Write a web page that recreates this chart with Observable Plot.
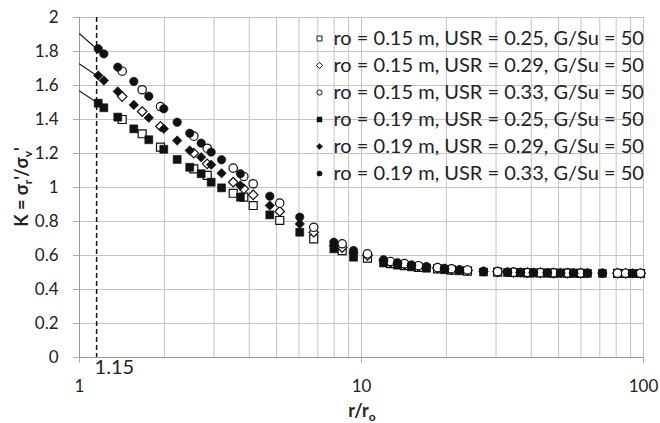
<!DOCTYPE html>
<html>
<head>
<meta charset="utf-8">
<script src="https://cdn.jsdelivr.net/npm/d3@7"></script>
<script src="https://cdn.jsdelivr.net/npm/@observablehq/plot@0.6"></script>
<style>
  html, body { margin: 0; padding: 0; background: #fff; }
  #chart { width: 660px; height: 423px; }
</style>
</head>
<body>
<div id="chart"></div>
<script>
// ---- data ----
const seriesNames = [
  "ro = 0.15 m, USR = 0.25, G/Su = 50",
  "ro = 0.15 m, USR = 0.29, G/Su = 50",
  "ro = 0.15 m, USR = 0.33, G/Su = 50",
  "ro = 0.19 m, USR = 0.25, G/Su = 50",
  "ro = 0.19 m, USR = 0.29, G/Su = 50",
  "ro = 0.19 m, USR = 0.33, G/Su = 50"
];
// r/ro positions for ro = 0.15 m series (open markers)
const xOpen = [1.417, 1.668, 1.937, 2.543, 2.837, 3.508, 3.825, 4.13, 5.13, 6.77, 8.54,
  10.5, 12.67, 14.21, 15.93, 18.6, 20.85, 23.76, 30.4, 34.6, 38.8, 43.1, 47.96, 53.8, 59.8, 80.9, 86.4, 97.6];
// r/ro positions for ro = 0.19 m series (filled markers)
const xFilled = [1.165, 1.22, 1.367, 1.558, 1.761, 1.99, 2.22, 2.46, 2.70, 2.93, 3.19, 3.72, 4.73, 6.04, 7.98,
  9.37, 11.97, 13.42, 15.04, 17.0, 19.7, 22.26, 27.08, 32.94, 36.6, 40.7, 45.6, 50.8, 56.5, 63.3, 71.5, 91.4];

const yA = [1.400, 1.316, 1.237, 1.110, 1.071, 0.966, 0.943, 0.894, 0.806, 0.698, 0.629,
  0.585, 0.552, 0.540, 0.530, 0.521, 0.514, 0.508, 0.502, 0.500, 0.498, 0.497, 0.496, 0.496, 0.495, 0.495, 0.494, 0.494];
const yB = [1.535, 1.447, 1.359, 1.202, 1.139, 1.031, 0.992, 0.957, 0.859, 0.737, 0.647,
  0.600, 0.560, 0.547, 0.536, 0.526, 0.519, 0.512, 0.504, 0.501, 0.499, 0.498, 0.497, 0.497, 0.496, 0.496, 0.495, 0.495];
const yC = [1.684, 1.575, 1.476, 1.302, 1.231, 1.114, 1.065, 1.022, 0.908, 0.766, 0.669,
  0.610, 0.565, 0.552, 0.540, 0.529, 0.522, 0.515, 0.505, 0.502, 0.500, 0.499, 0.498, 0.497, 0.497, 0.496, 0.496, 0.496];
const yD = [1.496, 1.469, 1.414, 1.345, 1.281, 1.225, 1.165, 1.119, 1.081, 1.031, 0.998, 0.943, 0.839, 0.737, 0.639,
  0.590, 0.556, 0.543, 0.533, 0.525, 0.516, 0.510, 0.503, 0.500, 0.498, 0.497, 0.496, 0.496, 0.495, 0.495, 0.495, 0.494];
const yE = [1.659, 1.629, 1.565, 1.486, 1.410, 1.345, 1.276, 1.218, 1.178, 1.134, 1.084, 1.012, 0.894, 0.786, 0.659,
  0.615, 0.568, 0.551, 0.540, 0.531, 0.521, 0.514, 0.506, 0.502, 0.500, 0.499, 0.498, 0.497, 0.497, 0.496, 0.496, 0.495];
const yF = [1.816, 1.786, 1.708, 1.624, 1.537, 1.463, 1.384, 1.319, 1.261, 1.208, 1.163, 1.081, 0.949, 0.826, 0.678,
  0.629, 0.575, 0.558, 0.545, 0.535, 0.525, 0.517, 0.508, 0.503, 0.501, 0.500, 0.499, 0.498, 0.498, 0.497, 0.497, 0.496];

// short theoretical lines near the cavity wall
const refLineX = [1, 1.15];
const refLineTop = [1.904, 1.816];
const refLineMid = [1.727, 1.659];
const refLineBot = [1.567, 1.502];

const markerX = [1.15];
const xTicks = [1, 10, 100];
const xGrid = [2, 3, 4, 5, 6, 7, 8, 9, 10, 20, 30, 40, 50, 60, 70, 80, 90, 100];
const yTicks = [0, 0.2, 0.4, 0.6, 0.8, 1, 1.2, 1.4, 1.6, 1.8, 2];

// ---- build ----
const seriesDefs = [
  {x: xOpen, y: yA, symbol: "square", filled: false, r: 4.5},
  {x: xOpen, y: yB, symbol: "diamond2", filled: false, r: 4.3},
  {x: xOpen, y: yC, symbol: "circle", filled: false, r: 4.2},
  {x: xFilled, y: yD, symbol: "square", filled: true, r: 4.5},
  {x: xFilled, y: yE, symbol: "diamond2", filled: true, r: 4.3},
  {x: xFilled, y: yF, symbol: "circle", filled: true, r: 4.2}
];

const gridColor = "#c4c4c4";
const marks = [
  Plot.gridX(xGrid, {stroke: gridColor, strokeOpacity: 1}),
  Plot.gridY(yTicks, {stroke: gridColor, strokeOpacity: 1}),
  Plot.axisY(yTicks, {tickSize: 6, tickPadding: 15, stroke: "#b0b0b0", fill: "#222",
    tickFormat: d => String(+d.toFixed(1)), label: null, fontSize: 17}),
  Plot.axisX(xTicks, {tickSize: 6, tickPadding: 16, stroke: "#b0b0b0", fill: "#222",
    tickFormat: d => String(d), label: null, fontSize: 17}),
  Plot.ruleX([1], {stroke: "#9a9a9a"}),
  Plot.ruleY([0], {stroke: "#9a9a9a"})
];
for (const ly of [refLineTop, refLineMid, refLineBot]) {
  marks.push(Plot.line(refLineX.map((x, i) => ({x, y: ly[i]})), {x: "x", y: "y", stroke: "#222", strokeWidth: 1.2}));
}
marks.push(Plot.ruleX(markerX, {stroke: "#111", strokeDasharray: "5,3", strokeWidth: 1.5}));
marks.push(Plot.text(markerX, {x: d => d, frameAnchor: "bottom", dy: 16, dx: -2, text: d => String(d),
  textAnchor: "start", fontSize: 20, fill: "#222"}));

seriesDefs.forEach((s, i) => {
  const data = s.x.map((x, j) => ({x, y: s.y[j], series: seriesNames[i]}));
  marks.push(Plot.dot(data, {x: "x", y: "y", symbol: s.symbol, r: s.r,
    fill: s.filled ? "#111" : "white", stroke: "#111", strokeWidth: s.filled ? 0.6 : 1.2}));
});

// legend inside the frame
seriesDefs.forEach((s, i) => {
  const dy = 21 + 27 * i;
  marks.push(Plot.dot([seriesNames[i]], {frameAnchor: "top-left", dx: 240, dy, symbol: s.symbol,
    r: s.symbol === "circle" ? 2.6 : 2.8,
    fill: s.filled ? "#111" : "white", stroke: "#111", strokeWidth: s.filled ? 0.5 : 1}));
  marks.push(Plot.text([seriesNames[i]], {frameAnchor: "top-left", dx: 254, dy, text: d => d,
    textAnchor: "start", lineAnchor: "middle", fontSize: 20, fill: "#222"}));
});

const chart = Plot.plot({
  width: 660,
  height: 423,
  marginLeft: 79,
  marginRight: 17,
  marginTop: 17,
  marginBottom: 66,
  style: {fontFamily: "Lato, 'Open Sans', sans-serif", fontSize: "17px", color: "#222", background: "white"},
  x: {type: "log", domain: [1, 100]},
  y: {domain: [0, 2]},
  marks
});
document.getElementById("chart").appendChild(chart);

// axis titles with subscripts
const svg = d3.select(chart);
const xt = svg.append("text")
  .attr("x", 362).attr("y", 417)
  .attr("text-anchor", "middle")
  .attr("font-weight", "bold").attr("font-size", 18).attr("fill", "#222");
xt.append("tspan").text("r/r");
xt.append("tspan").attr("dy", 4).attr("font-size", 12).text("o");

const yt = svg.append("text")
  .attr("transform", "translate(28,187) rotate(-90)")
  .attr("text-anchor", "middle")
  .attr("font-weight", "bold").attr("font-size", 18).attr("fill", "#222");
yt.append("tspan").text("K = σ");
yt.append("tspan").attr("dy", 4).attr("font-size", 12).text("r");
yt.append("tspan").attr("dy", -4).text("'/σ");
yt.append("tspan").attr("dy", 4).attr("font-size", 12).text("v");
yt.append("tspan").attr("dy", -4).text("'");
</script>
</body>
</html>
